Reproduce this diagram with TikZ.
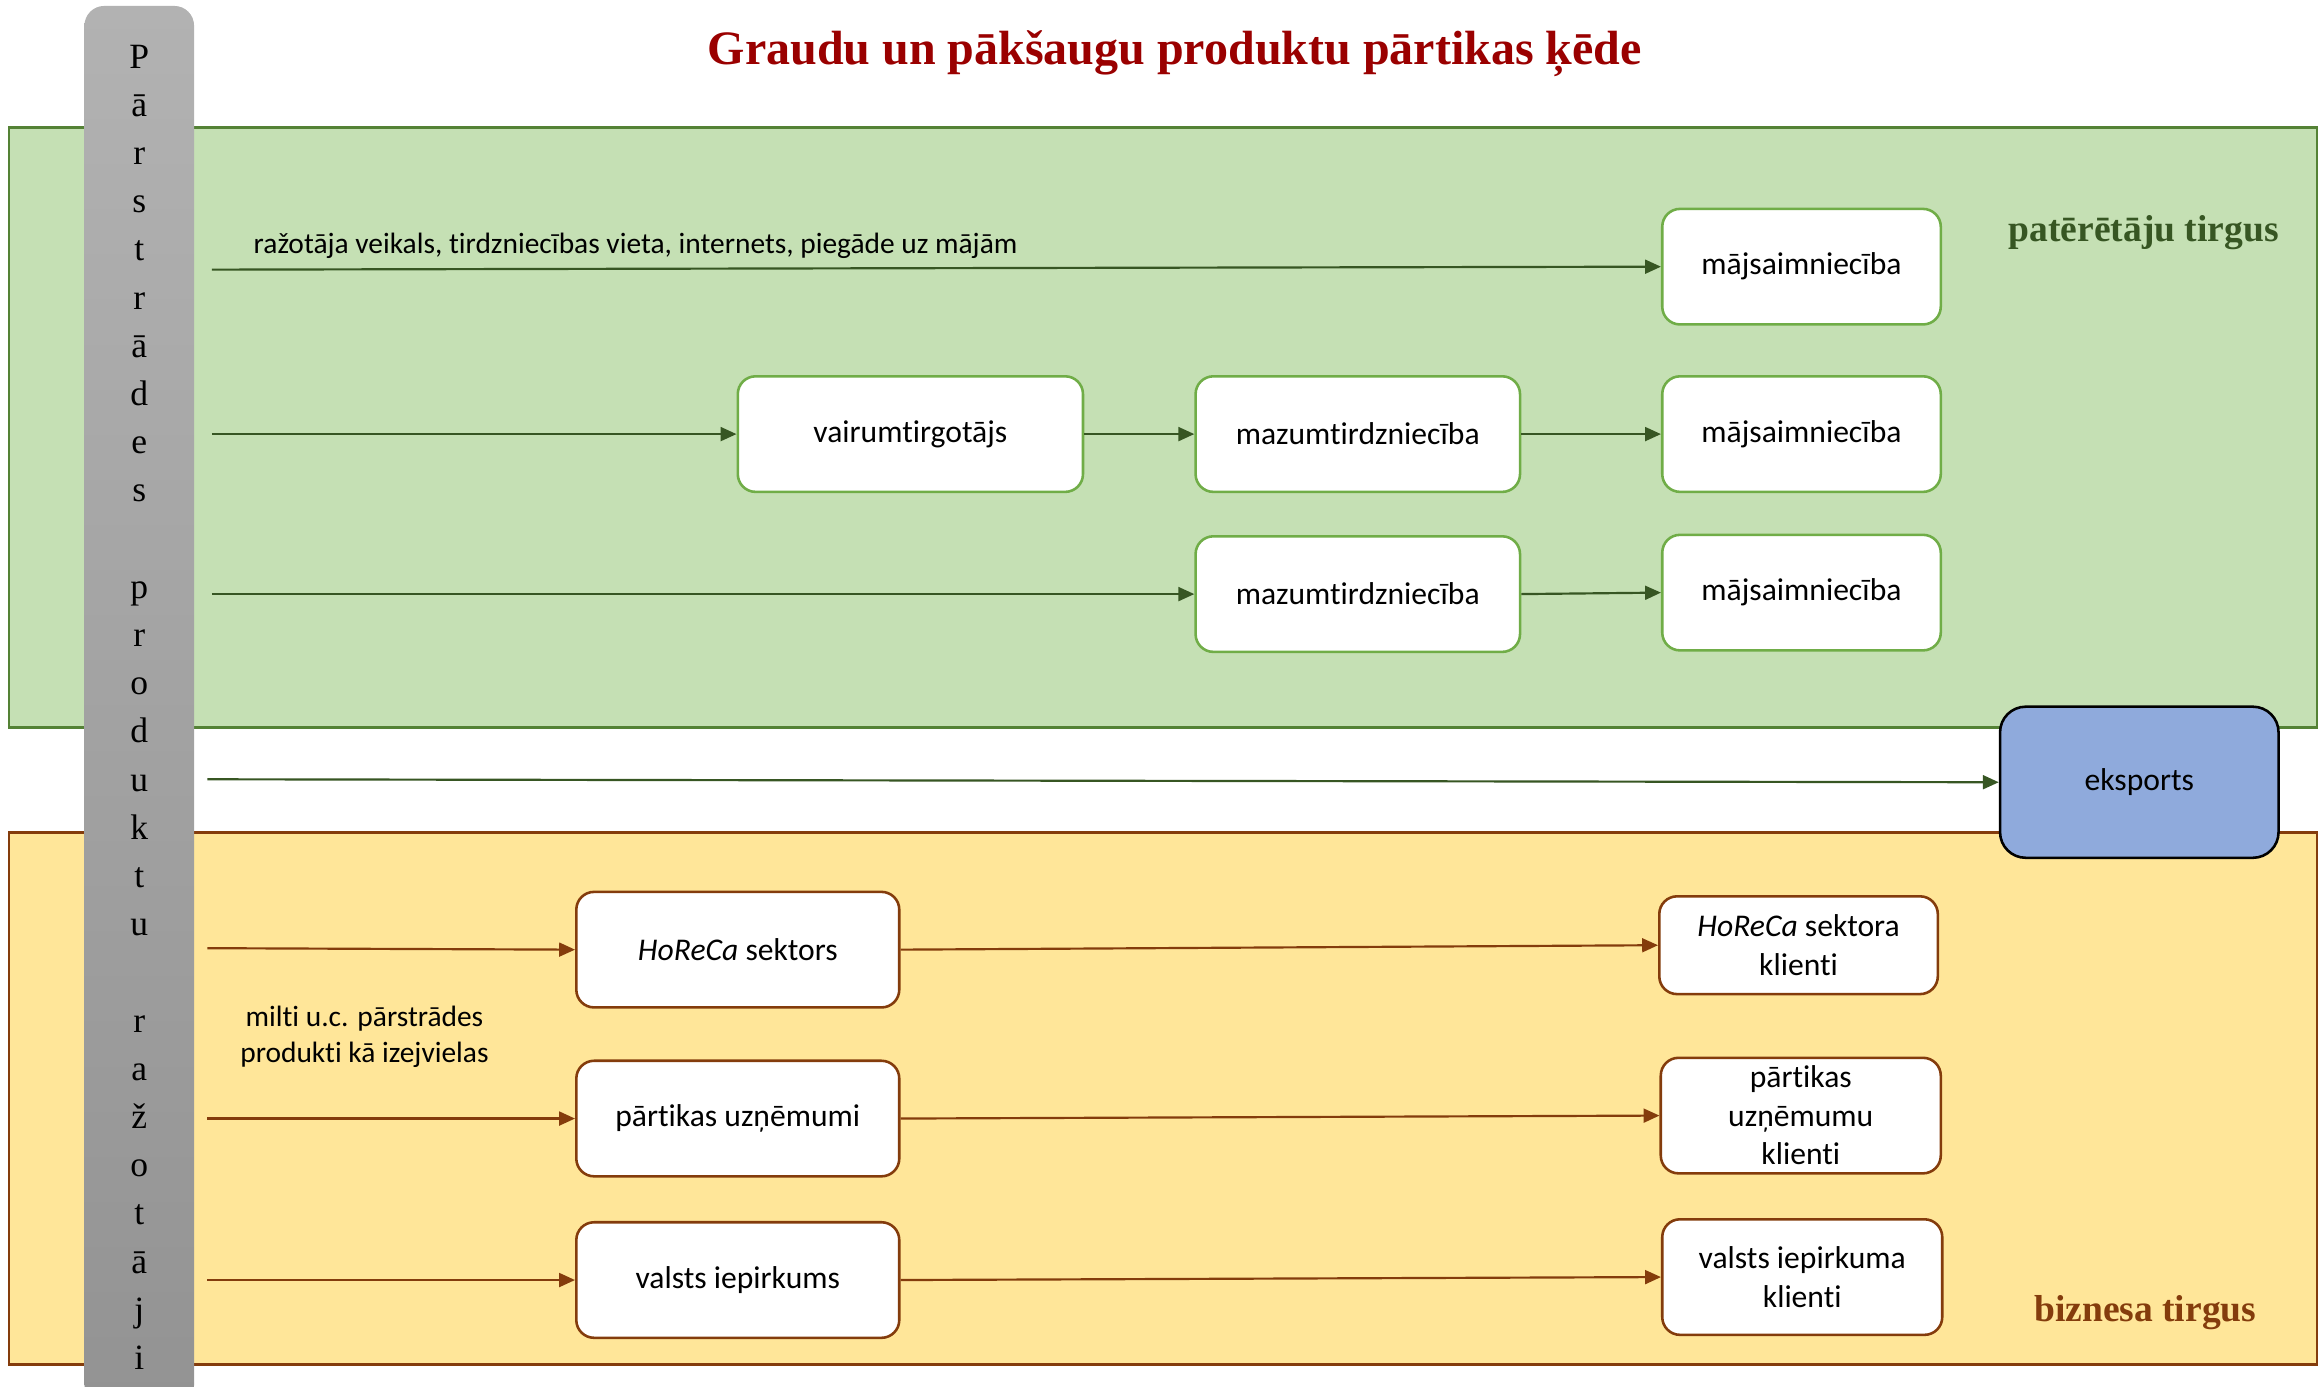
\documentclass[tikz,border=0pt]{standalone}
\usepackage{fontspec}
\setmainfont[Ligatures=NoCommon]{Carlito}
\newfontfamily\timesfont{Liberation Serif}
\usetikzlibrary{calc,arrows.meta,positioning}

\definecolor{fillGreen}{HTML}{C5E0B4}
\definecolor{regionGreen}{HTML}{548235}
\definecolor{boxGreen}{HTML}{70AD47}
\definecolor{arrowGreen}{HTML}{375623}
\definecolor{fillYellow}{HTML}{FFE699}
\definecolor{tirgusBrown}{HTML}{843C0C}
\definecolor{exportBlue}{HTML}{8FAADC}
\definecolor{titleRed}{HTML}{9A0000}
\definecolor{barTop}{HTML}{B2B2B2}
\definecolor{barBottom}{HTML}{939393}

\tikzset{
	boxtext/.style={font=\fontsize{16}{19.5}\selectfont, align=center, inner sep=0pt},
	greenbox/.style={boxtext, draw=boxGreen, fill=white, line width=1.3pt, rounded corners=9pt, minimum height=58.5pt},
	brownbox/.style={boxtext, draw=tirgusBrown, fill=white, line width=1.3pt, rounded corners=9pt, minimum height=58.5pt},
	greenarrow/.style={draw=arrowGreen, line width=1.1pt, -{Triangle[length=8pt,width=7pt]}},
	brownarrow/.style={draw=tirgusBrown, line width=1.1pt, -{Triangle[length=8pt,width=7pt]}},
	labeltext/.style={font=\fontsize{14.9}{18}\selectfont, align=center, inner sep=0pt},
	markettext/.style={font=\timesfont\bfseries\fontsize{19}{22}\selectfont, inner sep=0pt}
}

\begin{document}
\begin{tikzpicture}[x=0.75pt,y=0.75pt,yscale=-1,xscale=1]
			\useasboundingbox (0,0) rectangle (1568,936);
			%Patereetaju tirgus
			\draw [draw=regionGreen, fill=fillGreen, line width=1.2pt] (6,86) rectangle (1564,491);
			%Biznesa tirgus
			\draw [draw=tirgusBrown, fill=fillYellow, line width=1.2pt] (6,562) rectangle (1564,921);
			%Balks
			\shade [top color=barTop, bottom color=barBottom, rounded corners=10pt] (57,4) rectangle (131,948);
			
			% Title
			\node (title) at (793,36) [font=\timesfont\bfseries\fontsize{24.3}{28}\selectfont, text=titleRed, inner sep=0pt] {Graudu un pākšaugu produktu pārtikas ķēde};
			% Ražotāji
			\node (razotaji) at (94,30) [anchor=north, align=center, inner sep=0pt, font=\timesfont\fontsize{18}{24.4}\selectfont] {P\\ā\\r\\s\\t\\r\\ā\\d\\e\\s\\~\\p\\r\\o\\d\\u\\k\\t\\u\\~\\r\\a\\ž\\o\\t\\ā\\j\\i};
			% tirgus
			\node (patTirgus) at (1447,157) [markettext, text=arrowGreen] {patērētāju tirgus};
			\node (bizTirgus) at (1448,886) [markettext, text=tirgusBrown] {biznesa tirgus};
			
			% Mājsaimniecība
			\node (maj1) at (1216,180) [greenbox, minimum width=141pt] {mājsaimniecība};
			% Vairumtirgotājs
			\node (vairum) at (614.5,293) [greenbox, minimum width=174.75pt] {vairumtirgotājs};
			% Mazumtirdzniecība
			\node (mazum1) at (916.5,293) [greenbox, minimum width=164.25pt] {mazumtirdzniecība};
			% Mājsaimniecība
			\node (maj2) at (1216,293) [greenbox, minimum width=141pt] {mājsaimniecība};
			% Mazumtirdzniecība
			\node (mazum2) at (916.5,401) [greenbox, minimum width=164.25pt] {mazumtirdzniecība};
			% Mājsaimniecība
			\node (maj3) at (1216,400) [greenbox, minimum width=141pt] {mājsaimniecība};
			% Eksports
			\node (eksports) at (1444,528) [boxtext, draw=black, fill=exportBlue, line width=1.3pt, rounded corners=13pt, minimum width=141pt, minimum height=76.5pt] {eksports};
			
			% HoReCa
			\node (horeca) at (498,641) [brownbox, minimum width=163.5pt] {\textit{HoReCa} sektors};
			% Pārtikas uzņēmumi
			\node (partikas) at (498,755) [brownbox, minimum width=163.5pt] {pārtikas uzņēmumi};
			% Valsts iepirkums
			\node (valsts) at (498,864) [brownbox, minimum width=163.5pt] {valsts iepirkums};
			% HoReCa klienti
			\node (horecaKl) at (1214,638) [brownbox, minimum width=141pt, minimum height=49.5pt] {\textit{HoReCa} sektora\\klienti};
			% Pārtikas klienti
			\node (partikasKl) at (1215.5,753) [brownbox, minimum width=141.75pt] {pārtikas\\uzņēmumu\\klienti};
			% Valsts klienti
			\node (valstsKl) at (1216.5,862) [brownbox, minimum width=141.75pt] {valsts iepirkuma\\klienti};
			
			% Text Node
			\node (veikals) at (171,166) [labeltext, anchor=west] {ražotāja veikals, tirdzniecības vieta, internets, piegāde uz mājām};
			% Text Node
			\node (milti) at (246,700) [labeltext] {milti u.c. pārstrādes\\produkti kā izejvielas};
			
			%Starts
			\coordinate (s1) at (143,182);
			\coordinate (s2) at (143,293);
			\coordinate (s3) at (143,401);
			\coordinate (s4) at (140,526);
			\coordinate (s5) at (140,640);
			\coordinate (s6) at (140,755);
			\coordinate (s7) at (140,864);
			
			%Linie
			\draw [greenarrow] (s1) -- (maj1.west);
			\draw [greenarrow] (s2) -- (vairum.west);
			\draw [greenarrow] (vairum.east) -- (mazum1.west);
			\draw [greenarrow] (mazum1.east) -- (maj2.west);
			\draw [greenarrow] (s3) -- (mazum2.west);
			\draw [greenarrow] (mazum2.east) -- (maj3.west);
			\draw [greenarrow] (s4) -- (eksports.west);
			%Linie
			\draw [brownarrow] (s5) -- (horeca.west);
			\draw [brownarrow] (horeca.east) -- (horecaKl.west);
			\draw [brownarrow] (s6) -- (partikas.west);
			\draw [brownarrow] (partikas.east) -- (partikasKl.west);
			\draw [brownarrow] (s7) -- (valsts.west);
			\draw [brownarrow] (valsts.east) -- (valstsKl.west);
			
		\end{tikzpicture}
\end{document}
